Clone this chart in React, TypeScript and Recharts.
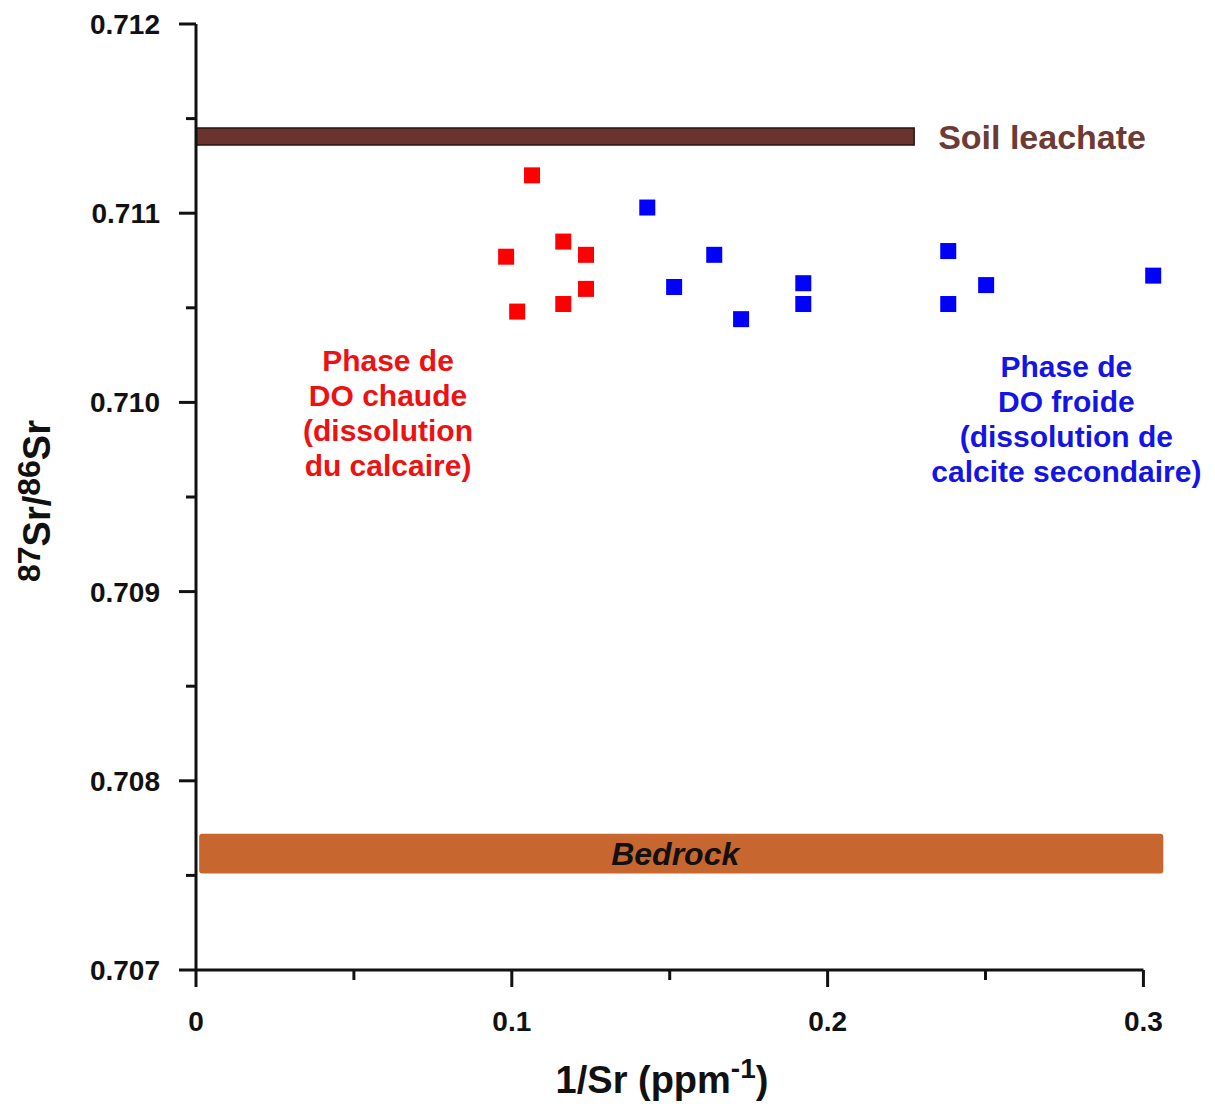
import React from "react";
import {
  ScatterChart,
  Scatter,
  XAxis,
  YAxis,
  ReferenceArea,
  ReferenceLine,
  ReferenceDot,
} from "recharts";

// ---- data ----
const redX = [0.1064, 0.1163, 0.0982, 0.1235, 0.1235, 0.1163, 0.1017];
const redY = [0.7112, 0.71085, 0.71077, 0.71078, 0.7106, 0.71052, 0.71048];
const blueX = [0.1429, 0.1641, 0.1514, 0.1726, 0.1923, 0.1923, 0.2382, 0.2382, 0.2502, 0.3031];
const blueY = [0.71103, 0.71078, 0.71061, 0.71044, 0.71063, 0.71052, 0.7108, 0.71052, 0.71062, 0.71067];

const soilX = [0, 0.2274];
const soilY = [0.71136, 0.71145];
const bedrockX = [0.001, 0.3063];
const bedrockY = [0.70751, 0.70772];

const xTicks = [0, 0.05, 0.1, 0.15, 0.2, 0.25, 0.3];
const yTicks = [0.707, 0.7075, 0.708, 0.7085, 0.709, 0.7095, 0.71, 0.7105, 0.711, 0.7115, 0.712];

const redLabel = ["Phase de", "DO chaude", "(dissolution", "du calcaire)"];
const blueLabel = ["Phase de", "DO froide", "(dissolution de", "calcite secondaire)"];
const redLabelAnchor = { x: 0.0608, y: 0.710166 };
const blueLabelAnchor = { x: 0.2756, y: 0.710134 };

const redData = redX.map((x, i) => ({ x, y: redY[i] }));
const blueData = blueX.map((x, i) => ({ x, y: blueY[i] }));

const FONT = "'Liberation Sans', Arial, Helvetica, sans-serif";
const AXIS = "#111";

const YTick = (props: any) => {
  const { x, y, payload } = props;
  const v = payload.value as number;
  const major = Math.abs(v * 1000 - Math.round(v * 1000)) < 1e-6;
  return (
    <g>
      <line x1={x - (major ? 17 : 10)} x2={x} y1={y} y2={y} stroke={AXIS} strokeWidth={3} />
      {major && (
        <text x={x - 36} y={y + 10} textAnchor="end" fontFamily={FONT} fontWeight="bold" fontSize={28} fill={AXIS}>
          {v.toFixed(3)}
        </text>
      )}
    </g>
  );
};

const XTick = (props: any) => {
  const { x, y, payload } = props;
  const v = payload.value as number;
  const major = Math.abs(v * 10 - Math.round(v * 10)) < 1e-6;
  return (
    <g>
      <line x1={x} x2={x} y1={y} y2={y + (major ? 17 : 10)} stroke={AXIS} strokeWidth={3} />
      {major && (
        <text x={x} y={y + 61} textAnchor="middle" fontFamily={FONT} fontWeight="bold" fontSize={28} fill={AXIS}>
          {v === 0 ? "0" : v.toFixed(1)}
        </text>
      )}
    </g>
  );
};

const square = (color: string) => (p: any) => (
  <rect x={p.cx - 8} y={p.cy - 8} width={16} height={16} fill={color} />
);

const multiLine = (lines: string[], color: string) => (props: any) => {
  const vb = props.viewBox || {};
  const cx = (vb.x ?? 0) + (vb.width ?? 0) / 2;
  const cy = (vb.y ?? 0) + (vb.height ?? 0) / 2;
  return (
    <text x={cx} y={cy} textAnchor="middle" fontFamily={FONT} fontWeight="bold" fontSize={30} fill={color}>
      {lines.map((l, i) => (
        <tspan key={i} x={cx} dy={i === 0 ? 0 : 35}>
          {l}
        </tspan>
      ))}
    </text>
  );
};

const soilLabel = (props: any) => {
  const vb = props.viewBox || {};
  return (
    <text x={vb.x + vb.width + 24} y={vb.y + vb.height / 2 + 12} fontFamily={FONT} fontWeight="bold" fontSize={34} fill="#6E3A35">
      Soil leachate
    </text>
  );
};

const bedrockLabel = (props: any) => {
  const vb = props.viewBox || {};
  return (
    <text x={vb.x + vb.width / 2 - 6} y={vb.y + vb.height / 2 + 11} textAnchor="middle" fontFamily={FONT} fontWeight="bold" fontStyle="italic" fontSize={32} fill="#111">
      Bedrock
    </text>
  );
};

const xAxisLabel = (props: any) => {
  const vb = props.viewBox || {};
  return (
    <text x={662} y={vb.y + 123} textAnchor="middle" fontFamily={FONT} fontWeight="bold" fontSize={38} fill={AXIS}>
      1/Sr (ppm
      <tspan fontSize={28} dy={-15}>-1</tspan>
      <tspan dy={15}>)</tspan>
    </text>
  );
};

const yAxisLabel = (props: any) => {
  const vb = props.viewBox || {};
  const cy = vb.y + vb.height / 2 + 4;
  const x = 50;
  return (
    <text x={x} y={cy} textAnchor="middle" transform={`rotate(-90, ${x}, ${cy})`} fontFamily={FONT} fontWeight="bold" fontSize={38} fill={AXIS}>
      <tspan fontSize={32} dy={-10}>87</tspan>
      <tspan dy={10}>Sr/</tspan>
      <tspan fontSize={32} dy={-10}>86</tspan>
      <tspan dy={10}>Sr</tspan>
    </text>
  );
};

export default function App() {
  return (
    <div style={{ position: "absolute", left: 0, top: 0, background: "#fff" }}>
      <ScatterChart width={1215} height={1104} margin={{ top: 24, right: 40, bottom: 74, left: 116 }}>
        <XAxis
          type="number"
          dataKey="x"
          domain={[0, 0.31]}
          allowDataOverflow
          ticks={xTicks}
          interval={0}
          tick={<XTick />}
          tickLine={false}
          tickSize={0}
          tickMargin={0}
          axisLine={false}
          height={60}
          label={{ content: xAxisLabel }}
        />
        <YAxis
          type="number"
          dataKey="y"
          domain={[0.707, 0.712]}
          allowDataOverflow
          ticks={yTicks}
          interval={0}
          tick={<YTick />}
          tickLine={false}
          tickSize={0}
          tickMargin={0}
          axisLine={{ stroke: AXIS, strokeWidth: 3 }}
          width={80}
          label={{ content: yAxisLabel }}
        />
        <ReferenceLine
          segment={[
            { x: xTicks[0], y: yTicks[0] },
            { x: xTicks[xTicks.length - 1], y: yTicks[0] },
          ]}
          stroke={AXIS}
          strokeWidth={3}
          ifOverflow="visible"
        />
        <ReferenceArea
          x1={soilX[0]}
          x2={soilX[1]}
          y1={soilY[0]}
          y2={soilY[1]}
          fill="#693430"
          fillOpacity={1}
          stroke="#2a1311"
          strokeWidth={1.5}
          ifOverflow="visible"
          label={{ content: soilLabel }}
        />
        <ReferenceArea
          x1={bedrockX[0]}
          x2={bedrockX[1]}
          y1={bedrockY[0]}
          y2={bedrockY[1]}
          fill="#C8662F"
          fillOpacity={1}
          stroke="none"
          radius={3}
          ifOverflow="visible"
          label={{ content: bedrockLabel }}
        />
        <ReferenceDot x={redLabelAnchor.x} y={redLabelAnchor.y} r={0} fill="none" stroke="none" label={{ content: multiLine(redLabel, "#EE1111") }} />
        <ReferenceDot x={blueLabelAnchor.x} y={blueLabelAnchor.y} r={0} fill="none" stroke="none" label={{ content: multiLine(blueLabel, "#1414E6") }} />
        <Scatter data={redData} fill="#FF0000" shape={square("#FF0000")} isAnimationActive={false} />
        <Scatter data={blueData} fill="#0000FF" shape={square("#0000FF")} isAnimationActive={false} />
      </ScatterChart>
    </div>
  );
}
